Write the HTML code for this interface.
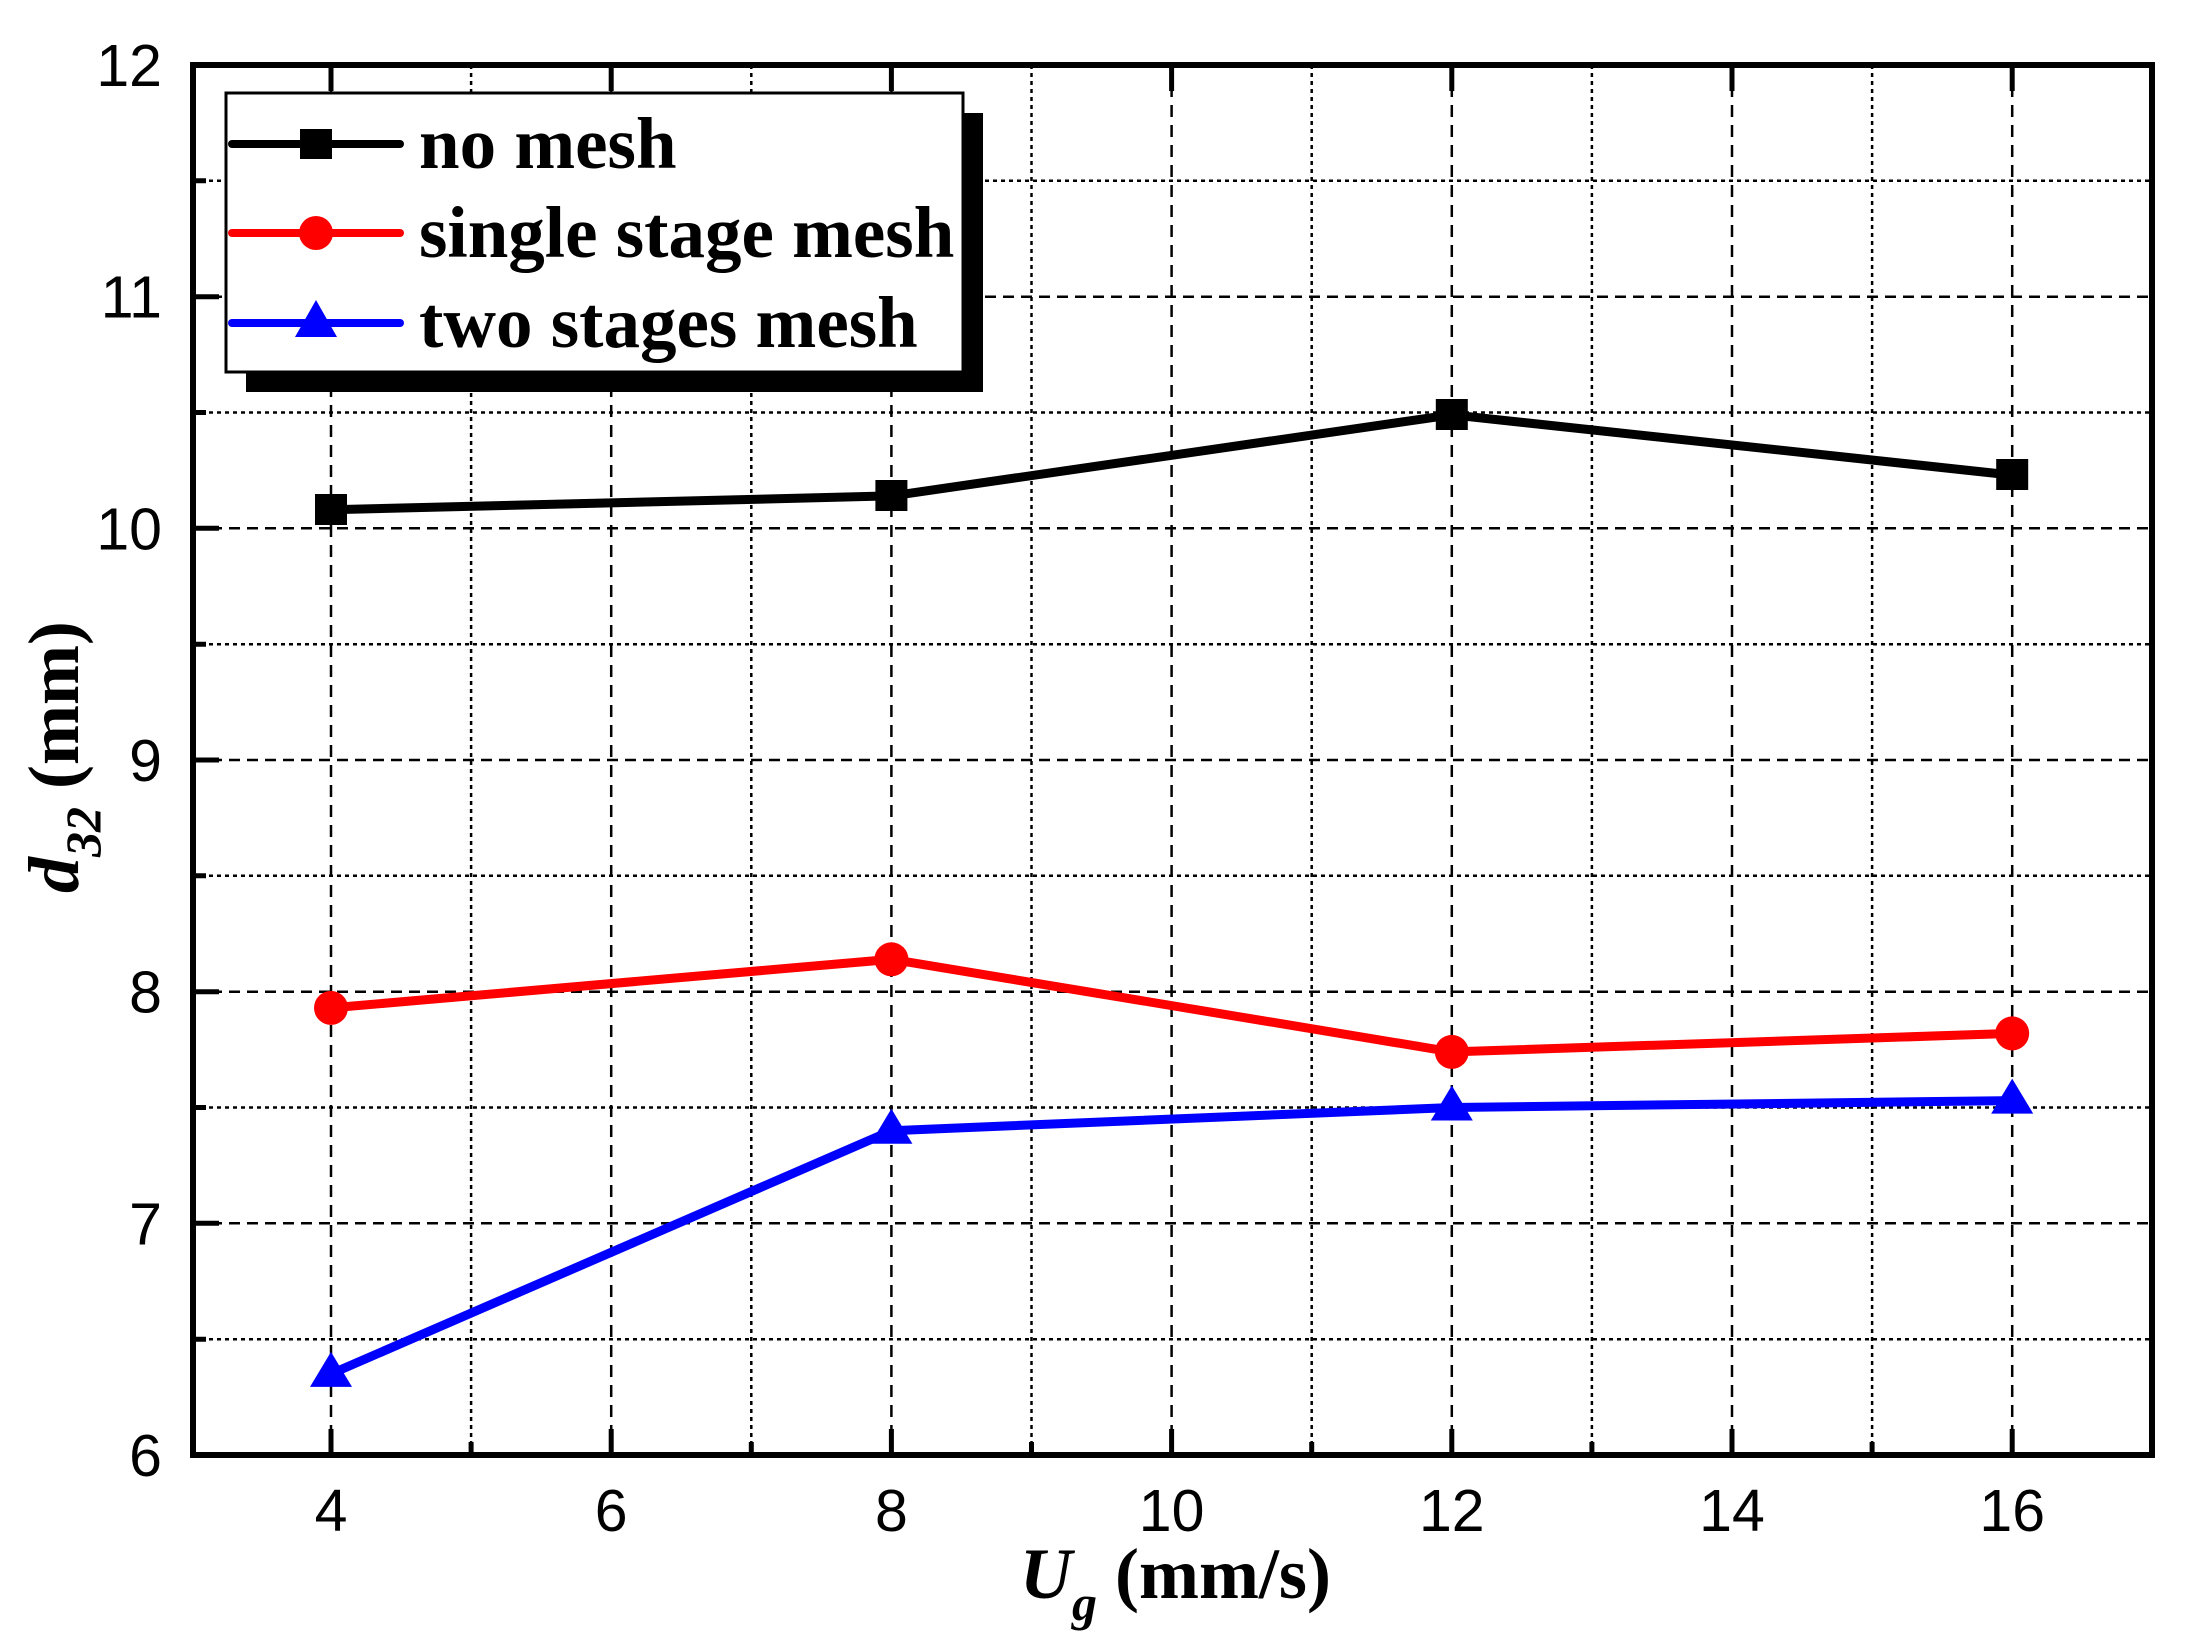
<!DOCTYPE html>
<html><head><meta charset="utf-8"><style>html,body{margin:0;padding:0;background:#fff}svg{display:block}</style></head>
<body>
<svg width="2210" height="1648" viewBox="0 0 2210 1648" xmlns="http://www.w3.org/2000/svg">
<rect width="2210" height="1648" fill="#fff"/>
<g stroke="#000" stroke-width="2.5" fill="none">
<g stroke-dasharray="11,7">
<line x1="193" x2="2152" y1="296.7" y2="296.7"/>
<line x1="193" x2="2152" y1="528.3" y2="528.3"/>
<line x1="193" x2="2152" y1="760" y2="760"/>
<line x1="193" x2="2152" y1="991.7" y2="991.7"/>
<line x1="193" x2="2152" y1="1223.3" y2="1223.3"/>
</g>
<g stroke-dasharray="4,4">
<line x1="193" x2="2152" y1="180.8" y2="180.8"/>
<line x1="193" x2="2152" y1="412.5" y2="412.5"/>
<line x1="193" x2="2152" y1="644.2" y2="644.2"/>
<line x1="193" x2="2152" y1="875.8" y2="875.8"/>
<line x1="193" x2="2152" y1="1107.5" y2="1107.5"/>
<line x1="193" x2="2152" y1="1339.2" y2="1339.2"/>
</g>
<g stroke-dasharray="12,8">
<line y1="65" y2="1455" x1="331" x2="331"/>
<line y1="65" y2="1455" x1="611.2" x2="611.2"/>
<line y1="65" y2="1455" x1="891.4" x2="891.4"/>
<line y1="65" y2="1455" x1="1171.6" x2="1171.6"/>
<line y1="65" y2="1455" x1="1451.8" x2="1451.8"/>
<line y1="65" y2="1455" x1="1732" x2="1732"/>
<line y1="65" y2="1455" x1="2012.2" x2="2012.2"/>
</g>
<g stroke-dasharray="4,4">
<line y1="65" y2="1455" x1="471.1" x2="471.1"/>
<line y1="65" y2="1455" x1="751.3" x2="751.3"/>
<line y1="65" y2="1455" x1="1031.5" x2="1031.5"/>
<line y1="65" y2="1455" x1="1311.7" x2="1311.7"/>
<line y1="65" y2="1455" x1="1591.9" x2="1591.9"/>
<line y1="65" y2="1455" x1="1872.1" x2="1872.1"/>
</g>
</g>
<g stroke="#000" stroke-width="5">
<path d="M331 1455v-26M611.2 1455v-26M891.4 1455v-26M1171.6 1455v-26M1451.8 1455v-26M1732 1455v-26M2012.2 1455v-26"/>
<path d="M471.1 1455v-13M751.3 1455v-13M1031.5 1455v-13M1311.7 1455v-13M1591.9 1455v-13M1872.1 1455v-13"/>
<path d="M331 65v26M611.2 65v26M891.4 65v26M1171.6 65v26M1451.8 65v26M1732 65v26M2012.2 65v26"/>
<path d="M193 296.7h26M193 528.3h26M193 760h26M193 991.7h26M193 1223.3h26"/>
<path d="M193 180.8h13M193 412.5h13M193 644.2h13M193 875.8h13M193 1107.5h13M193 1339.2h13"/>
</g>
<g fill="none" stroke-width="9" stroke-linejoin="round">
<polyline stroke="#000" points="331,509.8 891.4,495.9 1451.8,414.8 2012.2,475.1"/>
<polyline stroke="#f00" points="331,1007.9 891.4,959.3 1451.8,1051.9 2012.2,1033.4"/>
<polyline stroke="#00f" points="331,1373.9 891.4,1130.7 1451.8,1107.5 2012.2,1100.6"/>
</g>
<g fill="#000">
<rect x="315" y="494" width="32" height="31"/><rect x="875.4" y="480" width="32" height="31"/><rect x="1435.8" y="399" width="32" height="31"/><rect x="1996.2" y="459" width="32" height="31"/>
</g>
<g fill="#f00">
<ellipse cx="331" cy="1007.9" rx="17" ry="17"/><ellipse cx="891.4" cy="959.3" rx="17" ry="17"/><ellipse cx="1451.8" cy="1051.9" rx="17" ry="17"/><ellipse cx="2012.2" cy="1033.4" rx="17" ry="17"/>
</g>
<g fill="#00f">
<path d="M331 1351.9l21 35h-42z"/><path d="M891.4 1108.7l21 35h-42z"/><path d="M1451.8 1085.5l21 35h-42z"/><path d="M2012.2 1078.6l21 35h-42z"/>
</g>
<rect x="193" y="65" width="1959" height="1390" fill="none" stroke="#000" stroke-width="6"/>
<rect x="246" y="113" width="737" height="279" fill="#000"/>
<rect x="226" y="93" width="737" height="279" fill="#fff" stroke="#000" stroke-width="3"/>
<g stroke-width="8" stroke-linecap="round">
<line x1="232" x2="400" y1="144" y2="144" stroke="#000"/>
<line x1="232" x2="400" y1="233" y2="233" stroke="#f00"/>
<line x1="232" x2="400" y1="323" y2="323" stroke="#00f"/>
</g>
<rect x="300" y="129" width="32" height="30" fill="#000"/>
<circle cx="316" cy="233" r="17" fill="#f00"/>
<path d="M316 300l21 37h-42z" fill="#00f"/>
<g font-family="'Liberation Serif',serif" font-weight="bold" font-size="73" fill="#000">
<text x="419" y="168">no mesh</text>
<text x="419" y="257">single stage mesh</text>
<text x="419" y="347">two stages mesh</text>
</g>
<g font-family="'Liberation Sans',sans-serif" font-size="59" fill="#000">
<g text-anchor="middle">
<text x="331" y="1531">4</text><text x="611.2" y="1531">6</text><text x="891.4" y="1531">8</text><text x="1171.6" y="1531">10</text><text x="1451.8" y="1531">12</text><text x="1732" y="1531">14</text><text x="2012.2" y="1531">16</text>
</g>
<g text-anchor="end">
<text x="162" y="86">12</text><text x="162" y="317.7">11</text><text x="162" y="549.3">10</text><text x="162" y="781">9</text><text x="162" y="1012.7">8</text><text x="162" y="1244.3">7</text><text x="162" y="1476">6</text>
</g>
</g>
<g font-family="'Liberation Serif',serif" font-weight="bold" fill="#000">
<text x="1020" y="1598" font-size="72"><tspan font-style="italic">U</tspan><tspan font-style="italic" font-size="50" dy="22">g</tspan><tspan dy="-22"> (mm/s)</tspan></text>
<text transform="translate(78,893) rotate(-90)" font-size="72"><tspan font-style="italic">d</tspan><tspan font-style="italic" font-size="50" dy="22">32</tspan><tspan dy="-22"> (mm)</tspan></text>
</g>
</svg>
</body></html>
